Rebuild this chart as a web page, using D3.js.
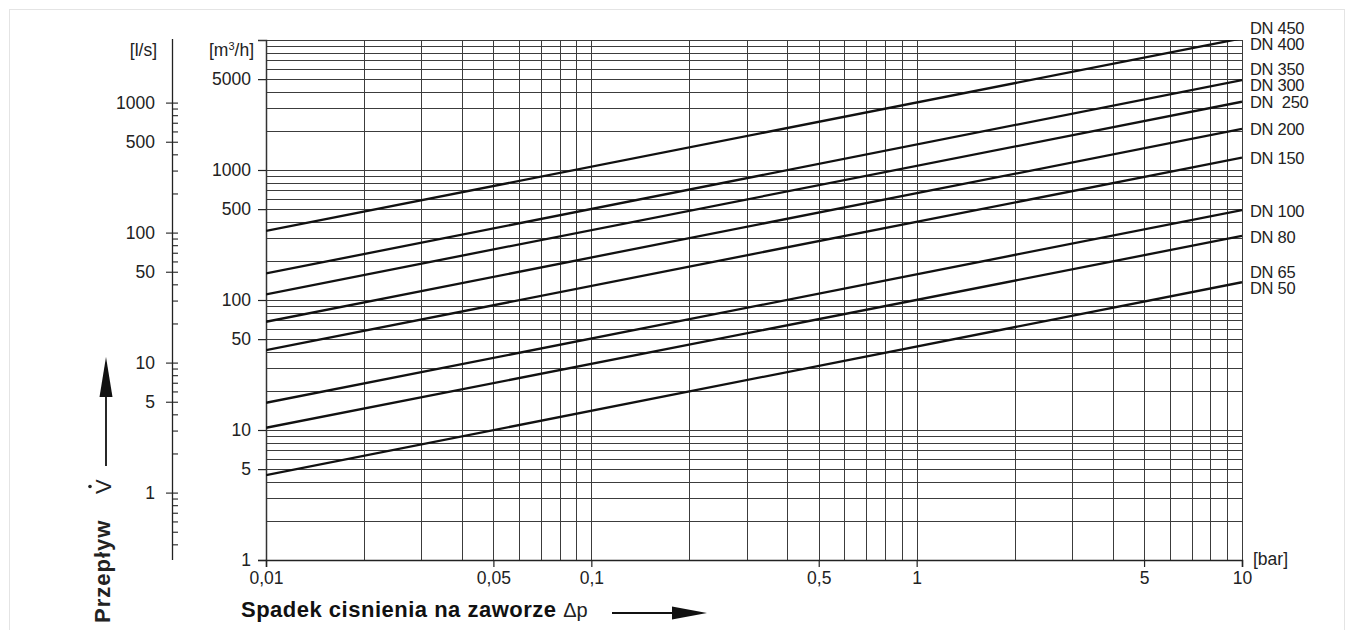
<!DOCTYPE html>
<html>
<head>
<meta charset="utf-8">
<script src="https://cdn.jsdelivr.net/npm/d3@7"></script>
<style>
  body { margin: 0; background: #fff; }
  text { font-family: "Liberation Sans", Arial, sans-serif; fill: #222; }
</style>
</head>
<body>
<div id="chart"></div>
<script>
// flow through the valve for each DN group, read at 0.01 bar and at 10 bar (m3/h)
const dnGroups = [["DN 450", "DN 400"], ["DN 350", "DN 300"], ["DN  250"], ["DN 200"],
                  ["DN 150"], ["DN 100"], ["DN 80"], ["DN 65", "DN 50"]];
const pressureEnds = [0.01, 10];
const flowAtLow = [340, 160, 110.6, 68, 41.2, 16.2, 10.4, 4.5];
const flowAtHigh = [10300, 4920, 3350, 2070, 1244, 492, 311, 137];

const xTickValues = [0.01, 0.05, 0.1, 0.5, 1, 5, 10];
const m3hTickValues = [1, 5, 10, 50, 100, 500, 1000, 5000];
const lsTickValues = [1, 5, 10, 50, 100, 500, 1000];
const lsToM3h = 3.3; // where the l/s scale sits against the m3/h scale on the sheet

const width = 1354;
const height = 630;
const margin = { top: 40, right: 112, bottom: 70, left: 266 };
const fontSize = 17.5;

const svg = d3
  .select("#chart")
  .append("svg")
  .attr("width", width)
  .attr("height", height)
  .attr("viewBox", [0, 0, width, height]);

// faint frame round the sheet
svg.append("rect")
  .attr("x", 9.5).attr("y", 9.5)
  .attr("width", width - 19).attr("height", height)
  .attr("fill", "none").attr("stroke", "#e4e4e4");

const x = d3.scaleLog().domain([0.01, 10]).range([margin.left, width - margin.right]);
const y = d3.scaleLog().domain([1, 10000]).range([height - margin.bottom, margin.top]);
const yLs = y.copy().domain(y.domain().map((v) => v / lsToM3h));

// grid
const grid = svg.append("g").attr("stroke", "#3c3c3c").attr("stroke-width", 1)
  .attr("shape-rendering", "crispEdges");
grid.selectAll(".v").data(x.ticks()).join("line")
  .attr("x1", (d) => Math.round(x(d)) + 0.5).attr("x2", (d) => Math.round(x(d)) + 0.5)
  .attr("y1", y.range()[1]).attr("y2", y.range()[0]);
grid.selectAll(".h").data(y.ticks()).join("line")
  .attr("y1", (d) => Math.round(y(d)) + 0.5).attr("y2", (d) => Math.round(y(d)) + 0.5)
  .attr("x1", x.range()[0]).attr("x2", x.range()[1]);

function styleText(sel) {
  sel.attr("font-size", fontSize).attr("fill", "#222")
    .attr("font-family", "Liberation Sans, Arial, sans-serif");
}

// m3/h axis
const yAxis = svg.append("g")
  .attr("transform", `translate(${x.range()[0]},0)`)
  .call(d3.axisLeft(y).tickValues(m3hTickValues).tickFormat(d3.format("d"))
    .tickSize(8).tickPadding(7));
yAxis.select(".domain").attr("stroke", "#333").attr("stroke-width", 1.5);
yAxis.selectAll(".tick line").attr("stroke", "#222").attr("stroke-width", 1.2);
yAxis.selectAll("text").call(styleText);

// pressure axis
const xAxis = svg.append("g")
  .attr("transform", `translate(0,${y.range()[0]})`)
  .call(d3.axisBottom(x).tickValues(xTickValues)
    .tickFormat((d) => String(d).replace(".", ","))
    .tickSize(7).tickPadding(5));
xAxis.select(".domain").attr("stroke", "#222").attr("stroke-width", 1.5);
xAxis.selectAll(".tick line").attr("stroke", "#222").attr("stroke-width", 1.2);
xAxis.selectAll("text").call(styleText);

// l/s axis
const lsX = 172;
const lsMinor = yLs.ticks().filter((d) => d >= 0.29 && d <= 1000);
const lsRight = svg.append("g")
  .attr("transform", `translate(${lsX},0)`)
  .call(d3.axisRight(yLs).tickValues(lsMinor).tickFormat("").tickSize(6).tickSizeOuter(0));
lsRight.select(".domain").attr("d", `M0.5,${y.range()[1] - 1}V${y.range()[0]}`)
  .attr("stroke", "#222").attr("stroke-width", 1.3);
lsRight.selectAll(".tick line").attr("stroke", "#222").attr("stroke-width", 1.1);
const lsLeft = svg.append("g")
  .attr("transform", `translate(${lsX},0)`)
  .call(d3.axisLeft(yLs).tickValues(lsTickValues).tickFormat(d3.format("d"))
    .tickSize(6).tickPadding(11));
lsLeft.select(".domain").remove();
lsLeft.selectAll(".tick line").attr("stroke", "#222").attr("stroke-width", 1.1);
lsLeft.selectAll("text").call(styleText);

// units
svg.append("text").attr("x", 157).attr("y", 56).attr("text-anchor", "end")
  .attr("font-size", fontSize).text("[l/s]");
const unit = svg.append("text").attr("x", 254).attr("y", 56).attr("text-anchor", "end")
  .attr("font-size", fontSize);
unit.append("tspan").text("[m");
unit.append("tspan").attr("font-size", 11).attr("dy", -6).text("3");
unit.append("tspan").attr("dy", 6).text("/h]");
svg.append("text").attr("x", x(10) + 11).attr("y", 565).attr("font-size", fontSize).text("[bar]");

// DN lines
svg.append("clipPath").attr("id", "plot-clip")
  .append("rect")
  .attr("x", x.range()[0]).attr("y", y.range()[1])
  .attr("width", x.range()[1] - x.range()[0])
  .attr("height", y.range()[0] - y.range()[1]);

const series = dnGroups.map((names, i) => ({
  names,
  points: [[pressureEnds[0], flowAtLow[i]], [pressureEnds[1], flowAtHigh[i]]],
}));

const line = d3.line().x((d) => x(d[0])).y((d) => y(d[1]));

svg.append("g").attr("clip-path", "url(#plot-clip)")
  .selectAll("path").data(series).join("path")
  .attr("fill", "none")
  .attr("stroke", "#111")
  .attr("stroke-width", 2.3)
  .attr("d", (d) => line(d.points));

// DN labels at the right end of each line
const labelG = svg.append("g");
series.forEach((s) => {
  const yEnd = y(s.points[1][1]);
  const offsets = s.names.length === 2 ? [-10.5, 5.5] : [0.8];
  s.names.forEach((name, j) => {
    labelG.append("text")
      .attr("x", x(10) + 8)
      .attr("y", yEnd + offsets[j])
      .attr("dy", "0.35em")
      .attr("font-size", 16.5)
      .attr("letter-spacing", -0.3)
      .style("white-space", "pre")
      .text(name);
  });
});

// x title with arrow
const xt = svg.append("text").attr("x", 241).attr("y", 617);
xt.append("tspan").attr("font-size", 22).attr("font-weight", "bold")
  .attr("letter-spacing", 0.5).attr("fill", "#111").text("Spadek cisnienia na zaworze ");
xt.append("tspan").attr("font-size", 20).attr("fill", "#222").text("\u0394p");
svg.append("line").attr("x1", 612).attr("x2", 676).attr("y1", 613).attr("y2", 613)
  .attr("stroke", "#111").attr("stroke-width", 1.8);
svg.append("path").attr("d", "M707,613L672,606.5L672,619.5Z").attr("fill", "#111");

// y title with arrow
svg.append("text")
  .attr("transform", "translate(110,623) rotate(-90)")
  .attr("font-size", 22).attr("font-weight", "bold").attr("letter-spacing", 1)
  .attr("fill", "#111")
  .text("Przepływ");
svg.append("text")
  .attr("transform", "translate(111,494) rotate(-90)")
  .attr("font-size", 22).attr("fill", "#222")
  .text("V");
svg.append("circle").attr("cx", 90).attr("cy", 486.5).attr("r", 1.8).attr("fill", "#222");
svg.append("line").attr("x1", 106).attr("x2", 106).attr("y1", 466).attr("y2", 393)
  .attr("stroke", "#111").attr("stroke-width", 1.8);
svg.append("path").attr("d", "M106,357L99.5,397L112.5,397Z").attr("fill", "#111");
</script>
</body>
</html>
